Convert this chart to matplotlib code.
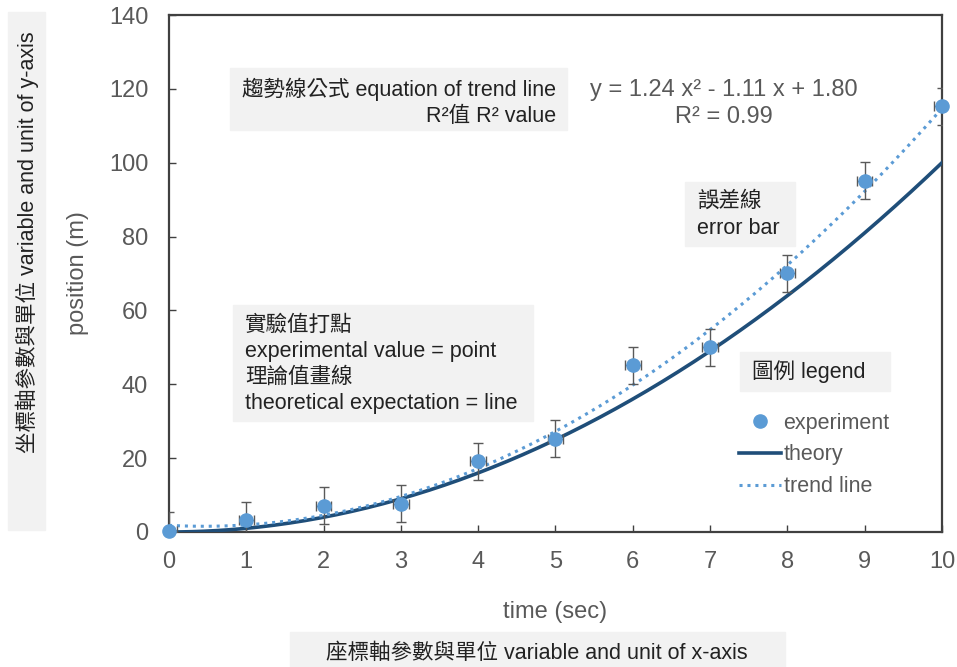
import numpy as np
import matplotlib
matplotlib.use("Agg")
import matplotlib.pyplot as plt

plt.rcParams['font.family'] = ['Liberation Sans', 'Noto Sans CJK TC', 'DejaVu Sans']

# data
time_s = [0, 1, 2, 3, 4, 5, 6, 7, 8, 9, 10]
exp_pos = [0.3, 3.2, 7.1, 7.6, 19.2, 25.2, 45.2, 50.0, 70.1, 95.1, 115.3]
exp_yerr = [5, 5, 5, 5, 5, 5, 5, 5, 5, 5, 5]
exp_xerr = [0.1] * 11
theory_pos = [0, 1, 4, 9, 16, 25, 36, 49, 64, 81, 100]
trend_coef = [1.24, -1.11, 1.80]
r_squared = 0.99

GRAY = '#595959'
INK = '#222222'
BOX = '#f2f2f2'
DOT = '#5b9bd5'
DARK = '#1f4e79'
NOTE = 15.5

fig = plt.figure(figsize=(9.57, 6.67), dpi=100)
ax = fig.add_axes([0.1766, 0.2024, 0.8077, 0.7751])

xs = np.linspace(0, 10, 200)
theory_fit = np.poly1d(np.polyfit(time_s, theory_pos, 2))
trend = np.poly1d(trend_coef)

ax.plot(xs, theory_fit(xs), color=DARK, lw=2.6, label='theory', zorder=3)
ax.plot(xs, trend(xs), color=DOT, lw=2.2, ls=(0, (1, 1.6)), label='trend line', zorder=3)
ax.errorbar(time_s, exp_pos, yerr=exp_yerr, xerr=exp_xerr, fmt='none',
            ecolor=GRAY, elinewidth=1, capsize=3.5, capthick=1, zorder=4)
ax.plot(time_s, exp_pos, 'o', color=DOT, ms=9.5, label='experiment',
        zorder=5, clip_on=False)

ax.set_xlim(0, 10)
ax.set_ylim(0, 140)
ax.set_xticks(range(0, 11))
ax.set_yticks(range(0, 141, 20))
ax.tick_params(direction='in', length=5, width=1, colors='#404040',
               labelcolor=GRAY, labelsize=17)
ax.tick_params(axis='x', pad=14)
ax.tick_params(axis='y', pad=15)
for sp in ax.spines.values():
    sp.set_color('#404040')
    sp.set_linewidth(1.6)

ax.set_xlabel('time (sec)', fontsize=17, color=GRAY, labelpad=20)
ax.set_ylabel('position (m)', fontsize=17, color=GRAY, labelpad=14)

h, l = ax.get_legend_handles_labels()
order = [2, 0, 1]
ax.legend([h[i] for i in order], [l[i] for i in order], loc='upper left',
          bbox_to_anchor=(0.738, 0.231), frameon=False, fontsize=NOTE,
          labelcolor=GRAY, handlelength=1.95, handletextpad=0.1,
          borderaxespad=0, borderpad=0, labelspacing=0.5)

def px(x, y):
    return x / 957, 1 - y / 667

def box(x0, y0, x1, y1):
    fig.patches.append(plt.Rectangle(px(x0, y1), (x1 - x0) / 957, (y1 - y0) / 667,
                                     transform=fig.transFigure, color=BOX, zorder=0))

# y-axis note
box(8, 12, 45, 530)
fig.text(*px(27, 242), '坐標軸參數與單位 variable and unit of y-axis', rotation=90,
         ha='center', va='center', fontsize=NOTE, color=INK)
# x-axis note
box(290, 632, 785, 667)
fig.text(*px(537, 653), '座標軸參數與單位 variable and unit of x-axis',
         ha='center', va='center', fontsize=NOTE, color=INK)
# trend equation note
box(230, 68, 567, 130)
fig.text(*px(556, 89), '趨勢線公式 equation of trend line', ha='right', va='center',
         fontsize=NOTE, color=INK)
fig.text(*px(556, 116), 'R²值 R² value', ha='right', va='center',
         fontsize=NOTE, color=INK)
a, b, c = trend_coef
fig.text(*px(724, 90), f'y = {a:.2f} x² - {abs(b):.2f} x + {c:.2f}', ha='center',
         va='center', fontsize=17, color=GRAY)
fig.text(*px(724, 117), f'R² = {r_squared:.2f}', ha='center', va='center',
         fontsize=17, color=GRAY)
# error bar note
box(685, 182, 795, 246)
fig.text(*px(697, 201), '誤差線', ha='left', va='center', fontsize=NOTE, color=INK)
fig.text(*px(697, 228), 'error bar', ha='left', va='center', fontsize=NOTE, color=INK)
# points / lines note
box(233, 305, 533, 421)
for yy, s in zip([325, 351, 377, 403],
                 ['實驗值打點', 'experimental value = point', '理論值畫線',
                  'theoretical expectation = line']):
    fig.text(*px(245, yy), s, ha='left', va='center', fontsize=NOTE, color=INK)
# legend title
box(740, 352, 890, 391)
fig.text(*px(752, 372), '圖例 legend', ha='left', va='center', fontsize=NOTE, color=INK)

fig.savefig('out.png', dpi=100)
